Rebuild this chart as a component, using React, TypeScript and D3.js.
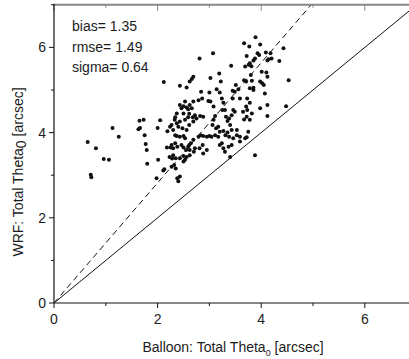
import React from "react";
import * as d3 from "d3";

const balloonTheta: number[] = [
  3.89, 3.67, 3.77, 3.98, 3.07, 2.81, 3.72, 3.93, 3.96, 4.09, 4.18, 4.43, 4.2, 4.14, 4.12, 4.35,
  3.42, 3.69, 3.78, 3.81, 3.76, 3.85, 3.88, 3.19, 3.02, 3.22, 2.69, 2.66, 2.62, 2.43, 2.56,
  3.8, 3.67, 3.71, 3.82, 4.01, 4.1, 4.12, 3.98, 4.02, 4.05, 3.78, 3.85, 3.85, 3.51, 3.56, 3.49,
  3.45, 3.59, 3.45, 3.14, 3.0, 2.84, 2.86, 2.98, 3.02, 3.08, 3.2, 3.24, 3.27, 3.3, 3.25, 4.07,
  4.53, 4.48, 4.12, 4.12, 3.98, 3.73, 3.78, 3.71, 3.73, 3.65, 3.72, 3.67, 3.78, 3.82, 3.46, 3.49,
  3.43, 3.38, 3.35, 3.32, 3.11, 3.08, 3.06, 3.13, 3.17, 3.2, 3.27, 3.4, 3.43, 3.53, 3.53, 3.59,
  3.46, 3.38, 3.35, 3.31, 3.17, 3.11, 3.04, 3.0, 2.95, 2.88, 2.83, 2.79, 2.69, 2.64, 2.61, 2.59,
  2.53, 2.5, 2.43, 2.37, 2.34, 2.3, 2.24, 2.4, 2.37, 2.48, 2.56, 2.61, 2.69, 2.75, 2.82, 2.88,
  2.59, 2.53, 2.43, 2.34, 2.37, 2.46, 2.5, 2.56, 2.59, 2.66, 2.62, 2.69, 2.79, 2.5, 2.43, 2.53,
  2.61, 2.68, 2.72, 2.33, 2.27, 3.69, 3.72, 3.75, 3.59, 3.43, 3.37, 3.27, 3.24, 3.2, 3.3, 3.4,
  3.88, 2.88, 2.95, 2.87, 2.81, 2.72, 2.7, 2.62, 2.56, 2.5, 2.43, 2.35, 2.3, 2.27, 2.34, 2.38,
  2.46, 2.5, 2.55, 2.62, 2.3, 2.32, 2.27, 2.35, 2.43, 2.38, 2.5, 2.53,
  2.12, 1.65, 1.73, 2.05, 1.13, 1.63, 1.66, 2.0, 1.25, 1.75, 0.65, 0.81, 1.77, 1.79, 0.96, 1.06,
  1.8, 2.01, 0.71, 0.72, 1.98, 2.13, 2.18, 2.25, 2.23, 2.28, 2.11, 2.4, 2.19,
];

const wrfTheta: number[] = [
  6.24, 6.1, 6.02, 6.07, 5.86, 5.74, 5.8, 5.86, 5.82, 5.88, 5.86, 5.98, 5.74, 5.72, 5.69, 5.68,
  5.57, 5.55, 5.63, 5.56, 5.59, 5.69, 5.74, 5.39, 5.28, 5.2, 5.31, 5.26, 5.2, 5.1, 5.06,
  5.35, 5.23, 5.2, 5.22, 5.43, 5.41, 5.31, 5.2, 5.16, 5.12, 5.04, 5.05, 5.0, 5.12, 5.02, 4.96,
  4.8, 4.8, 4.98, 5.02, 4.94, 4.96, 4.8, 4.74, 4.73, 4.61, 4.94, 4.8, 4.7, 4.53, 4.53, 4.92,
  5.23, 4.62, 4.65, 4.39, 4.57, 4.8, 4.7, 4.61, 4.53, 4.49, 4.37, 4.31, 4.3, 4.45, 4.53, 4.49,
  4.41, 4.33, 4.27, 4.37, 4.39, 4.3, 4.18, 4.1, 4.14, 4.02, 4.04, 4.18, 4.06, 4.06, 3.94, 3.9,
  3.87, 3.9, 4.0, 3.94, 3.9, 3.94, 3.9, 3.92, 3.9, 3.92, 3.94, 3.9, 3.83, 3.75, 3.71, 3.67,
  3.87, 3.92, 3.9, 3.92, 3.94, 4.06, 4.14, 4.14, 4.22, 4.1, 4.06, 4.18, 4.26, 4.33, 4.39, 4.37,
  4.36, 4.3, 4.26, 4.36, 4.45, 4.57, 4.62, 4.59, 4.55, 4.57, 4.65, 4.73, 4.76, 4.45, 4.65, 4.73,
  4.44, 4.36, 4.41, 4.3, 4.18, 3.87, 3.89, 4.02, 3.79, 3.71, 3.67, 3.63, 3.75, 3.71, 3.55, 3.43,
  3.47, 3.51, 3.59, 3.71, 3.63, 3.63, 3.55, 3.47, 3.43, 3.45, 3.4, 3.4, 3.63, 3.71, 3.75, 3.67,
  3.71, 3.65, 3.59, 3.59, 3.47, 3.24, 3.2, 3.16, 2.97, 2.93, 3.32, 3.36,
  5.19, 4.28, 4.3, 4.29, 4.11, 4.08, 4.11, 4.11, 3.9, 3.94, 3.78, 3.63, 3.73, 3.59, 3.38, 3.36,
  3.27, 3.36, 3.01, 2.95, 2.93, 3.14, 3.65, 3.65, 3.43, 3.39, 3.11, 2.86, 4.03,
];

const statLabels: string[] = ["bias= 1.35", "rmse= 1.49", "sigma= 0.64"];
const xTicks: number[] = [0, 1, 2, 3, 4, 5, 6, 7];
const yTicks: number[] = [0, 1, 2, 3, 4, 5, 6, 7];
const biasSlope = 1.41;

export default function App() {
  const W = 409;
  const H = 359;
  const x0 = 54;
  const yBottom = 303;
  const x = d3.scaleLinear().domain([0, 7]).range([x0, x0 + 7 * 51.8]);
  const y = d3.scaleLinear().domain([0, 7]).range([yBottom, yBottom - 7 * 42.6]);
  const font = "'Liberation Sans', Arial, sans-serif";
  const txt = "#1c1c1c";
  const pts = balloonTheta.map((b, i) => [b, wrfTheta[i]] as [number, number]);
  const line = d3.line<[number, number]>().x((d) => x(d[0])).y((d) => y(d[1]));
  const xr = x(7);
  const yTop = y(7);

  return (
    <svg
      width={W}
      height={H}
      style={{ position: "absolute", left: 0, top: 0, background: "#fff", display: "block" }}
    >
      <defs>
        <clipPath id="plotclip">
          <rect x={x0} y={yTop} width={xr - x0} height={yBottom - yTop} />
        </clipPath>
      </defs>
      <g clipPath="url(#plotclip)">
        <path d={line([[0, 0], [7, 7]]) || ""} stroke="#111" strokeWidth={1} fill="none" />
        <path
          d={line([[0, 0], [7 / biasSlope, 7]]) || ""}
          stroke="#111"
          strokeWidth={1}
          strokeDasharray="6,4"
          fill="none"
        />
        {pts.map((p, i) => (
          <circle key={i} cx={x(p[0])} cy={y(p[1])} r={2} fill="#111" />
        ))}
      </g>
      {/* top frame */}
      <line x1={x0} x2={W} y1={yTop} y2={yTop} stroke="#888" strokeWidth={2} />
      {xTicks.map((t) => (
        <line
          key={"tt" + t}
          x1={x(t)}
          x2={x(t)}
          y1={yTop}
          y2={yTop + (t % 2 === 0 ? 6 : 3)}
          stroke="#888"
          strokeWidth={1}
        />
      ))}
      {/* bottom axis */}
      <line x1={x0} x2={W} y1={yBottom} y2={yBottom} stroke="#111" strokeWidth={1.2} />
      {xTicks.map((t) => (
        <line
          key={"bt" + t}
          x1={x(t)}
          x2={x(t)}
          y1={yBottom}
          y2={yBottom + (t % 2 === 0 ? 5 : 3)}
          stroke="#111"
          strokeWidth={1}
        />
      ))}
      {xTicks
        .filter((t) => t % 2 === 0)
        .map((t) => (
          <text
            key={"bl" + t}
            x={x(t)}
            y={yBottom + 21}
            textAnchor="middle"
            fontFamily={font}
            fontSize={14}
            fill={txt}
          >
            {t}
          </text>
        ))}
      {/* left axis */}
      <line x1={x0} x2={x0} y1={yTop - 1} y2={yBottom} stroke="#111" strokeWidth={1.2} />
      {yTicks.map((t) => (
        <line
          key={"lt" + t}
          x1={x0}
          x2={x0 - (t % 2 === 0 ? 5 : 3)}
          y1={y(t)}
          y2={y(t)}
          stroke="#111"
          strokeWidth={1}
        />
      ))}
      {yTicks
        .filter((t) => t % 2 === 0 && t < 7)
        .map((t) => (
          <text
            key={"ll" + t}
            x={x0 - 8}
            y={y(t) + 5}
            textAnchor="end"
            fontFamily={font}
            fontSize={14}
            fill={txt}
          >
            {t}
          </text>
        ))}
      {/* stats */}
      {statLabels.map((s, i) => (
        <text
          key={s}
          x={72}
          y={31 + i * 20.5}
          fontFamily={font}
          fontSize={14}
          fill={txt}
        >
          {s}
        </text>
      ))}
      {/* axis titles */}
      <text x={233} y={352} textAnchor="middle" fontFamily={font} fontSize={14} fill={txt}>
        Balloon: Total Theta
        <tspan fontSize={9} dy={4}>0</tspan>
        <tspan dy={-4}> [arcsec]</tspan>
      </text>
      <text
        transform={`translate(23,172) rotate(-90)`}
        textAnchor="middle"
        fontFamily={font}
        fontSize={14}
        fill={txt}
      >
        WRF: Total Theta
        <tspan dy={3}>0</tspan>
        <tspan dy={-3}> [arcsec]</tspan>
      </text>
    </svg>
  );
}
